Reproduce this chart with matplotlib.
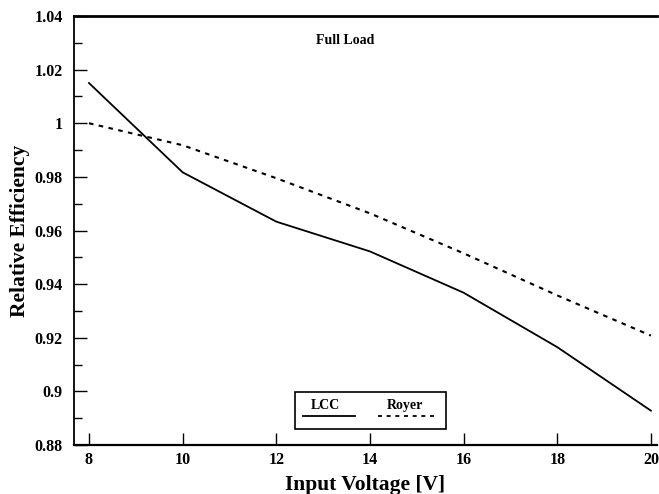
import matplotlib
matplotlib.use("Agg")
import matplotlib.pyplot as plt
from matplotlib.patches import Rectangle
from matplotlib.lines import Line2D
from matplotlib.ticker import MultipleLocator

plt.rcParams['font.family'] = ['Liberation Serif', 'DejaVu Serif']
plt.rcParams['font.weight'] = 'bold'

# data
voltage = [8, 10, 12, 14, 16, 18, 20]
lcc = [1.015, 0.9817, 0.9633, 0.9522, 0.9368, 0.9165, 0.8928]
royer = [1.000, 0.9918, 0.9795, 0.9664, 0.9515, 0.9358, 0.9208]

x_ticks = [8, 10, 12, 14, 16, 18, 20]
y_ticks = [0.88, 0.90, 0.92, 0.94, 0.96, 0.98, 1.00, 1.02, 1.04]
y_tick_labels = ["0.88", "0.9", "0.92", "0.94", "0.96", "0.98", "1", "1.02", "1.04"]

fig = plt.figure(figsize=(6.59, 4.94), dpi=100)
ax = fig.add_axes([74 / 659, 1 - 445 / 494, 583 / 659, 429 / 494])

ax.plot(voltage, lcc, color='black', lw=1.3, linestyle='-')
ax.plot(voltage, royer, color='black', lw=1.5, linestyle=(0, (2.2, 2.6)))

ax.set_xlim(7.68, 20.13)
ax.set_ylim(0.88, 1.04)
ax.set_xticks(x_ticks)
ax.set_yticks(y_ticks)
ax.set_yticklabels(y_tick_labels)
ax.yaxis.set_minor_locator(MultipleLocator(0.01))

ax.tick_params(axis='both', which='both', direction='in', labelsize=11.5)
ax.tick_params(axis='y', which='major', length=9, width=1, pad=8, right=False)
ax.tick_params(axis='y', which='minor', length=6, width=1, right=False)
ax.tick_params(axis='x', which='major', length=9, width=1, pad=5, top=False)

ax.spines['right'].set_visible(False)
ax.spines['top'].set_linewidth(2)
ax.spines['left'].set_linewidth(1.3)
ax.spines['bottom'].set_linewidth(1.6)

ax.set_xlabel("Input Voltage [V]", fontsize=15.5, fontweight='bold', labelpad=5)
ax.set_ylabel("Relative Efficiency", fontsize=15.5, fontweight='bold', labelpad=3)

ax.text(0.465, 0.942, "Full Load", transform=ax.transAxes, ha='center', va='center',
        fontsize=10, fontweight='bold')

# legend drawn by hand: labels above their line samples
ax.add_patch(Rectangle((0.379, 0.037), 0.259, 0.087, transform=ax.transAxes,
                       fill=False, edgecolor='black', lw=1.2))
ax.text(0.4305, 0.093, "LCC", transform=ax.transAxes, ha='center', va='center', fontsize=10)
ax.text(0.568, 0.093, "Royer", transform=ax.transAxes, ha='center', va='center', fontsize=10)
ax.add_line(Line2D([0.393, 0.482], [0.068, 0.068], transform=ax.transAxes,
                   color='black', lw=1.3))
ax.add_line(Line2D([0.521, 0.619], [0.068, 0.068], transform=ax.transAxes,
                   color='black', lw=1.3, linestyle=(0, (2.2, 2.6))))

fig.savefig("out.png", dpi=100)
